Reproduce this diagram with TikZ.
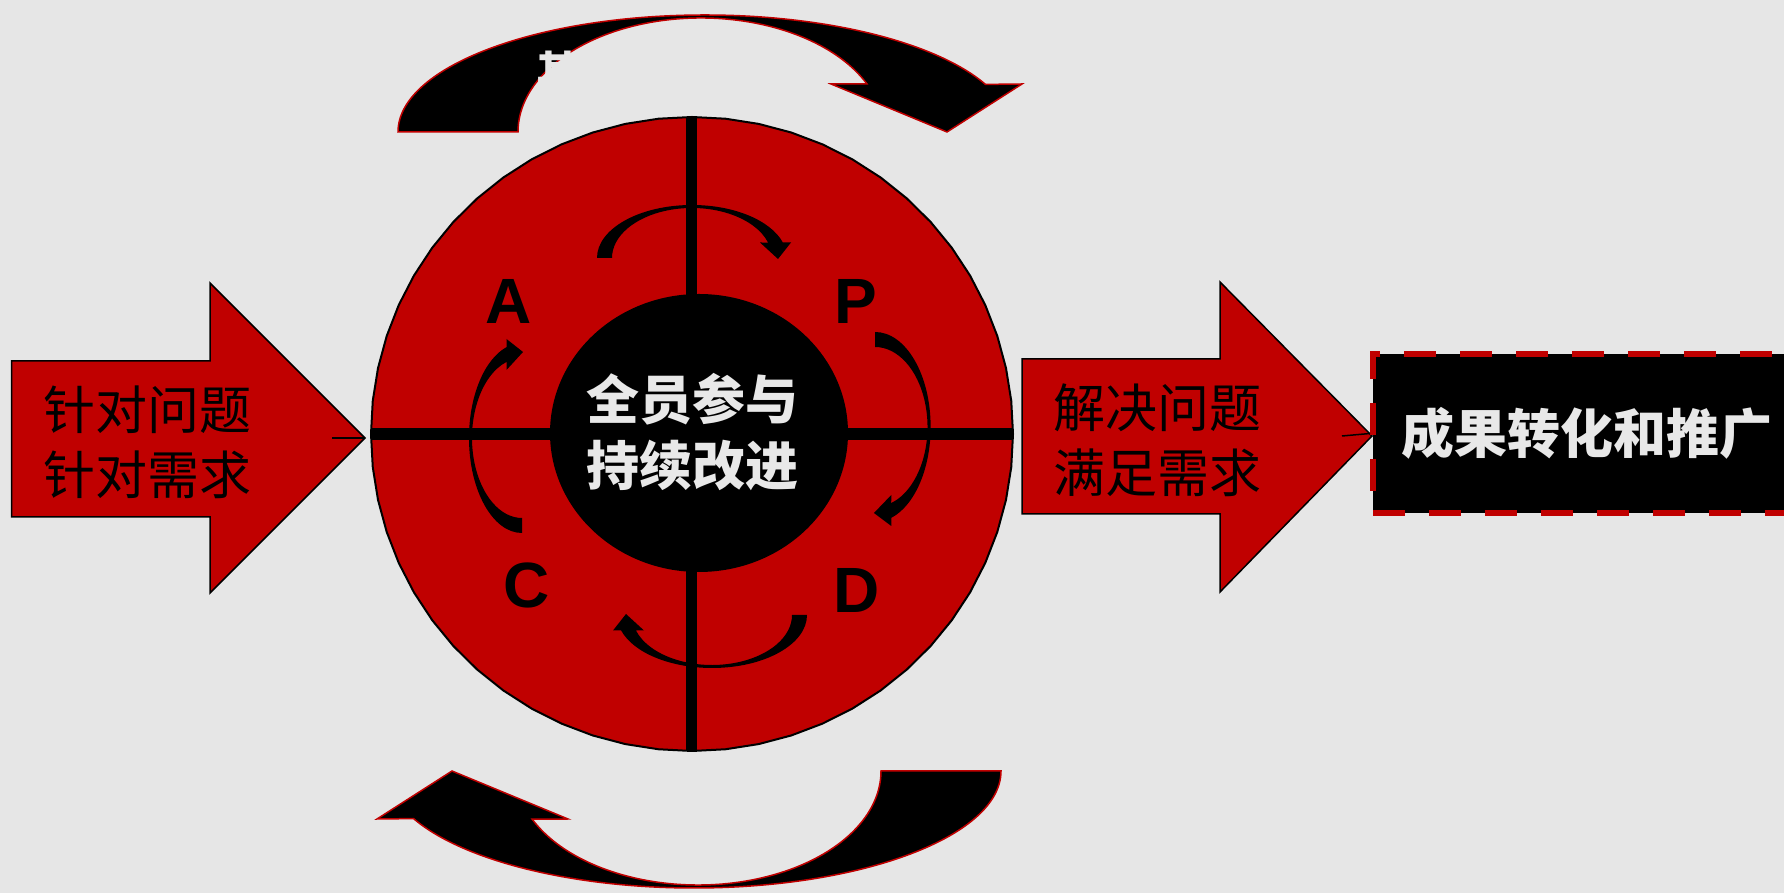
\documentclass[tikz,border=0pt]{standalone}
\usepackage{fontspec}
\setmainfont{Liberation Sans}
\newfontfamily\cjk{Noto Sans CJK SC}
\usetikzlibrary{shapes.geometric}

\definecolor{pdcared}{HTML}{C00000}
\definecolor{bggray}{HTML}{E6E6E6}
\definecolor{lighttext}{HTML}{E8E8E8}

\tikzset{
  blockarrow/.style={fill=pdcared, draw=black, line width=1.5pt},
  stub/.style={draw=black, line width=1.5pt},
  cntext/.style={font=\cjk\fontsize{52}{65}\selectfont, align=center, inner sep=0pt},
  coretext/.style={font=\cjk\bfseries\fontsize{53}{66}\selectfont, text=lighttext, align=center, inner sep=0pt},
  pdcalabel/.style={font=\bfseries\fontsize{64}{64}\selectfont, inner sep=0pt},
  hidetext/.style={font=\cjk\bfseries\fontsize{44}{44}\selectfont, text=bggray, inner sep=0pt},
  resultbox/.style={draw=pdcared, fill=black, line width=6pt, dash pattern=on 32pt off 24pt,
    minimum width=428pt, minimum height=159pt, text=lighttext,
    font=\cjk\bfseries\fontsize{53}{53}\selectfont},
  bigcurve/.pic={
    \draw[fill=black, draw=pdcared, line width=1.5pt]
      (398,761) arc[start angle=180, end angle=24, x radius=307, y radius=117]
      -- (1022,809) -- (947,761) -- (831,809)
      -- ([shift={(701,761)}]25:183 and 114)
      arc[start angle=25, end angle=180, x radius=183, y radius=114] -- cycle;
  }
}

\begin{document}
\begin{tikzpicture}[x=1pt,y=1pt]
  \clip (0,0) rectangle (1784,893);
  \fill[bggray] (0,0) rectangle (1784,893);

  % turning arrows above and below
  \pic at (0,0) {bigcurve};
  \node[hidetext, anchor=north west] (hidden) at (536,842) {其};
  \pic[rotate=180] at (1399,883) {bigcurve};

  % the wheel
  \draw[fill=pdcared, draw=black, line width=2pt]
    plot[domain=0:360, samples=61] ({692+321*cos(\x)},{459+317*sin(\x)}) -- cycle;
  \draw[line width=11pt] (691,776) -- (691,142);
  \draw[line width=12pt] (371,459) -- (1013,459);
  \node[ellipse, fill=black, inner sep=0pt, minimum width=298pt, minimum height=278pt] (hub) at (699,460) {};

  \foreach \cx/\cy/\rot/\ys in {692/635/0/1, 875/466/-90/1.05, 712/278/180/1, 522/455/90/1} {
    \begin{scope}[shift={(\cx,\cy)}, rotate=\rot, yscale=\ys]
      \fill (-95,0) arc[start angle=180, end angle=17, x radius=95, y radius=53]
        -- (99,15.5) -- (86,-1) -- (68,15.5) -- (18:80 and 50)
        arc[start angle=18, end angle=180, x radius=80, y radius=50] -- cycle;
    \end{scope}
  }

  \node[pdcalabel] (act) at (509,592) {A};
  \node[pdcalabel] (plan) at (856,592) {P};
  \node[pdcalabel] (check) at (527,308) {C};
  \node[pdcalabel] (do) at (857,303) {D};
  \node[coretext] (core) at (692,461) {全员参与\\持续改进};

  % input and output
  \draw[blockarrow] (11.7,532) -- (210,532) -- (210,610) -- (365,455)
    -- (210,300) -- (210,376) -- (11.7,376) -- cycle;
  \node[cntext] (needs) at (147,451) {针对问题\\针对需求};
  \coordinate (instub) at (332,455);
  \coordinate (intip) at (365,455);
  \draw[stub] (instub) -- (intip);

  \draw[blockarrow] (1022,534) -- (1220,534) -- (1220,611) -- (1372,457)
    -- (1220,301) -- (1220,379) -- (1022,379) -- cycle;
  \node[cntext] (solve) at (1157,453) {解决问题\\满足需求};

  \node[resultbox] (result) at (1587,459.5) {成果转化和推广};
  \coordinate (outstub) at (1342,457);
  \draw[stub] (outstub) -- (result.west);
\end{tikzpicture}
\end{document}
